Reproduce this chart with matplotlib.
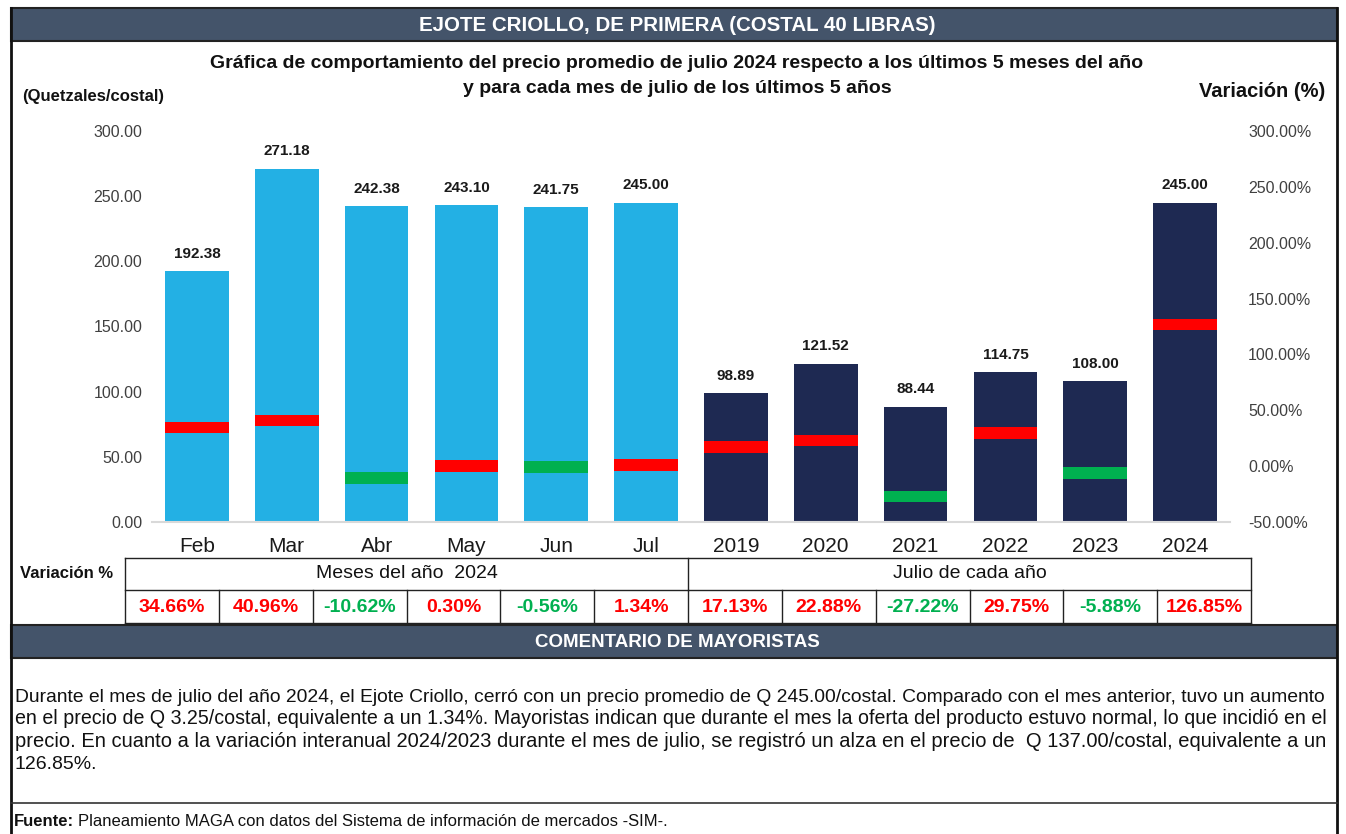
import numpy as np
import matplotlib
matplotlib.use("Agg")
import matplotlib.pyplot as plt
from matplotlib.patches import Rectangle

plt.rcParams['font.family'] = ['Liberation Sans', 'DejaVu Sans']

# data
meses = ["Feb", "Mar", "Abr", "May", "Jun", "Jul"]
anios = ["2019", "2020", "2021", "2022", "2023", "2024"]
precio_meses = [192.38, 271.18, 242.38, 243.10, 241.75, 245.00]
precio_julio = [98.89, 121.52, 88.44, 114.75, 108.00, 245.00]
var_meses = [34.66, 40.96, -10.62, 0.30, -0.56, 1.34]
var_julio = [17.13, 22.88, -27.22, 29.75, -5.88, 126.85]

titulo = "EJOTE CRIOLLO, DE PRIMERA (COSTAL 40 LIBRAS)"
subtitulo = ["Gráfica de comportamiento del precio promedio de julio 2024 respecto a los últimos 5 meses del año",
             "y para cada mes de julio de los últimos 5 años"]
comentario = [
    "Durante el mes de julio del año 2024, el Ejote Criollo, cerró con un precio promedio de Q 245.00/costal. Comparado con el mes anterior, tuvo un aumento",
    "en el precio de Q 3.25/costal, equivalente a un 1.34%. Mayoristas indican que durante el mes la oferta del producto estuvo normal, lo que incidió en el",
    "precio. En cuanto a la variación interanual 2024/2023 durante el mes de julio, se registró un alza en el precio de  Q 137.00/costal, equivalente a un",
    "126.85%.",
]

AZUL = "#23B0E4"
MARINO = "#1E2952"
PIZARRA = "#44546A"
ROJO = "#FF0000"
VERDE = "#00B050"

W, H = 1346, 834
fig = plt.figure(figsize=(W / 100, H / 100), dpi=100)
fig.patch.set_facecolor("white")

# main chart (pixel box: x 152..1230, y 131..522)
ax = fig.add_axes([152 / W, 1 - 522 / H, (1230 - 152) / W, (522 - 131) / H])
ax2 = ax.twinx()

etiquetas = meses + anios
precios = precio_meses + precio_julio
variacion = var_meses + var_julio
colores = [AZUL] * len(meses) + [MARINO] * len(anios)
x = np.arange(len(etiquetas))

ax.bar(x, precios, width=0.71, color=colores, zorder=2)
for xi, v in zip(x, precios):
    ax.annotate(f"{v:.2f}", (xi, v), xytext=(0, 7.5), textcoords="offset points",
                ha="center", va="bottom", fontsize=11, fontweight="bold", color="#1a1a1a")

alto = 10.5
marc_col = [ROJO if v > 0 else VERDE for v in variacion]
ax2.bar(x, [alto] * len(x), bottom=[v - alto / 2 for v in variacion], width=0.71,
        color=marc_col, zorder=3)

ax.set_xlim(-0.5, len(x) - 0.5)
ax.set_ylim(0, 300)
ax2.set_ylim(-50, 300)
ax.set_yticks(np.arange(0, 301, 50))
ax.set_yticklabels([f"{t:.2f}" for t in np.arange(0, 301, 50)])
ax2.set_yticks(np.arange(-50, 301, 50))
ax2.set_yticklabels([f"{t:.2f}%" for t in np.arange(-50, 301, 50)])
ax.set_xticks(x)
ax.set_xticklabels(etiquetas, fontsize=15, color="#1a1a1a")
ax.tick_params(axis="x", length=0, pad=11)
ax.tick_params(axis="y", length=0, pad=7, labelsize=11.5, labelcolor="#404040")
ax2.tick_params(axis="y", length=0, pad=13, labelsize=11.5, labelcolor="#404040")
for a in (ax, ax2):
    for s in a.spines.values():
        s.set_visible(False)
ax.spines["bottom"].set_visible(True)
ax.spines["bottom"].set_color("#D9D9D9")
ax.spines["bottom"].set_linewidth(1.5)

# overlay in pixel coordinates for frames, table and text blocks
ov = fig.add_axes([0, 0, 1, 1], zorder=5)
ov.set_xlim(0, W)
ov.set_ylim(H, 0)
ov.axis("off")
ov.patch.set_alpha(0)

# header bars
for y0, y1, txt, fs in [(8, 41, titulo, 14.8), (625, 658, "COMENTARIO DE MAYORISTAS", 13.5)]:
    ov.add_patch(Rectangle((11, y0), 1326, y1 - y0, facecolor=PIZARRA, edgecolor="#222222", lw=1.5))
    ov.text(677, (y0 + y1) / 2 + 1, txt, ha="center", va="center", color="white",
            fontsize=fs, fontweight="bold")

# outer frame
ov.plot([11, 11], [8, H], color="#111111", lw=2)
ov.plot([1337, 1337], [8, H], color="#111111", lw=2)
ov.plot([11, 1337], [803, 803], color="#333333", lw=1.2)

# titles
for k, linea in enumerate(subtitulo):
    ov.text(677, 63 + k * 25, linea, ha="center", va="center", fontsize=14, fontweight="bold",
            color="#111111")
ov.text(22, 96, "(Quetzales/costal)", ha="left", va="center", fontsize=12, fontweight="bold",
        color="#111111")
ov.text(1325, 91, "Variación (%)", ha="right", va="center", fontsize=14.5, fontweight="bold",
        color="#111111")

# variation table
t_left, t_right = 125, 1251
r0, r1, r2 = 558, 590, 623
cw = (t_right - t_left) / len(variacion)
lc = "#222222"
for yy in (r0, r1, r2):
    ov.plot([t_left, t_right], [yy, yy], color=lc, lw=1)
ov.plot([t_left, t_left], [r0, r2], color=lc, lw=1)
ov.plot([t_right, t_right], [r0, r2], color=lc, lw=1)
mid = t_left + cw * len(meses)
ov.plot([mid, mid], [r0, r1], color=lc, lw=1)
for i in range(1, len(variacion)):
    ov.plot([t_left + cw * i] * 2, [r1, r2], color=lc, lw=1)
ov.text(20, (r0 + r1) / 2, "Variación %", ha="left", va="center", fontsize=12,
        fontweight="bold", color="#111111")
ov.text((t_left + mid) / 2, (r0 + r1) / 2, "Meses del año  2024", ha="center", va="center",
        fontsize=14, color="#111111")
ov.text((mid + t_right) / 2, (r0 + r1) / 2, "Julio de cada año", ha="center", va="center",
        fontsize=14, color="#111111")
for i, v in enumerate(variacion):
    ov.text(t_left + cw * (i + 0.5), (r1 + r2) / 2 + 1, f"{v:.2f}%", ha="center", va="center",
            fontsize=14, fontweight="bold", color=ROJO if v > 0 else VERDE)

# comment text: each full line scaled to fill the box width (justified look)
renderer = fig.canvas.get_renderer()
c_left, c_right = 15, 1332
fs_c = 14
for k, linea in enumerate(comentario):
    y = 702 + k * 22.3
    t = ov.text(c_left, y, linea, ha="left", va="baseline", fontsize=fs_c, color="#111111")
    if k < len(comentario) - 1:
        ancho = t.get_window_extent(renderer).width
        t.set_fontsize(min(15, max(13, fs_c * (c_right - c_left) / ancho)))

# source
f1 = ov.text(14, 822, "Fuente:", ha="left", va="center", fontsize=12, fontweight="bold", color="#111111")
wf = f1.get_window_extent(renderer).width
ov.text(14 + wf + 4, 822, "Planeamiento MAGA con datos del Sistema de información de mercados -SIM-.",
        ha="left", va="center", fontsize=12, color="#111111")

fig.savefig("out.png", dpi=100)
